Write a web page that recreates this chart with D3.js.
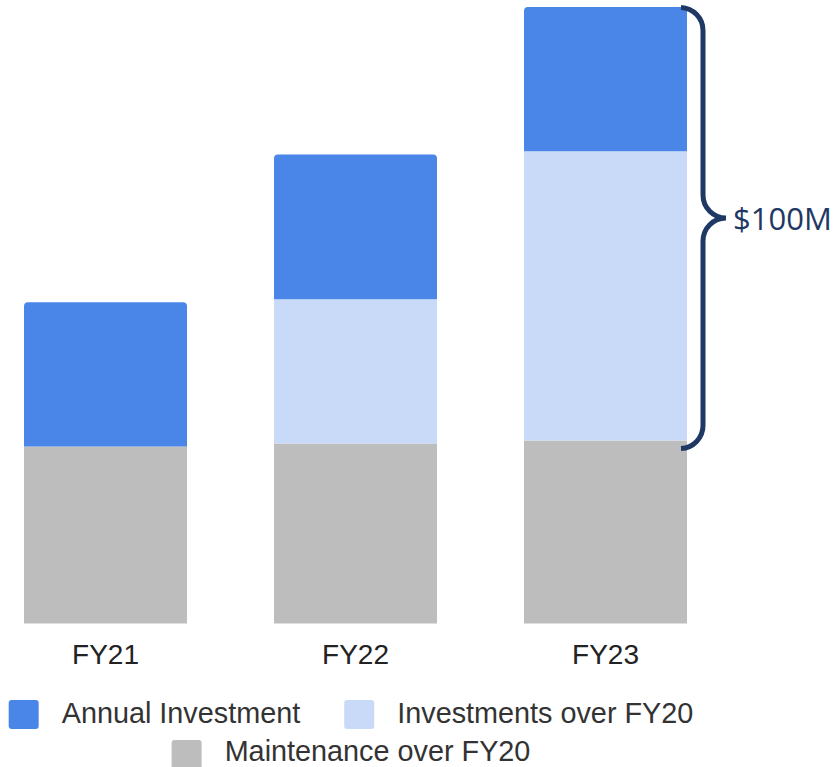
<!DOCTYPE html>
<html>
<head>
<meta charset="utf-8">
<script src="https://cdn.jsdelivr.net/npm/d3@7"></script>
<style>
  html, body { margin: 0; padding: 0; background: #fff; }
  svg { display: block; }
  .cat { font-family: "Liberation Sans", Arial, sans-serif; font-size: 28px; fill: #222; }
  .leg { font-family: "Liberation Sans", Arial, sans-serif; font-size: 28.8px; fill: #333; }
  .note { font-family: "Open Sans", sans-serif; font-size: 31px; fill: #1f3864; }
</style>
</head>
<body>
<div id="graph"></div>
<script>
!(function(){
"use strict"
var width = 838, height = 767

// data ($M)
var categories = ["FY21", "FY22", "FY23"]
var maintenance = [40.8, 41.5, 42.2]
var investmentsOver = [0, 33.3, 66.7]
var annual = [33.3, 33.4, 33.3]
var seriesKeys = ["maintenance", "investmentsOver", "annual"]
var seriesNames = {
	annual: "Annual Investment",
	investmentsOver: "Investments over FY20",
	maintenance: "Maintenance over FY20"
}
var bracketLabel = "$100M"

var colors = { annual: "#4a86e8", investmentsOver: "#c9daf8", maintenance: "#bdbdbd" }

var rows = categories.map(function(c, i){
	return { cat: c, maintenance: maintenance[i], investmentsOver: investmentsOver[i], annual: annual[i] }
})

var svg = d3.select("#graph").append("svg")
	.attr("width", width).attr("height", height)

var x = d3.scaleBand().domain(categories).range([24, 687]).paddingInner(0.348).paddingOuter(0)
var maxTotal = d3.max(rows, function(d){ return d.maintenance + d.investmentsOver + d.annual })
var y = d3.scaleLinear().domain([0, maxTotal]).range([623.5, 7])

var stacked = d3.stack().keys(seriesKeys)(rows)

// path with rounded top corners
function topRounded(x0, y0, w, h, r) {
	r = Math.min(r, h)
	return "M" + x0 + "," + (y0 + h) +
		"V" + (y0 + r) +
		"Q" + x0 + "," + y0 + " " + (x0 + r) + "," + y0 +
		"H" + (x0 + w - r) +
		"Q" + (x0 + w) + "," + y0 + " " + (x0 + w) + "," + (y0 + r) +
		"V" + (y0 + h) + "Z"
}

var layer = svg.append("g").selectAll("g")
	.data(stacked).enter().append("g")
	.attr("fill", function(d){ return colors[d.key] })

layer.selectAll("path")
	.data(function(d){ return d.map(function(p){ p.key = d.key; return p }) })
	.enter().append("path")
	.filter(function(d){ return d[1] - d[0] > 0 })
	.attr("d", function(d){
		var isTop = d.key === "annual"
		var y0 = y(d[1]), h = y(d[0]) - y(d[1])
		if (isTop) return topRounded(x(d.data.cat), y0, x.bandwidth(), h, 4)
		return "M" + x(d.data.cat) + "," + y0 + "h" + x.bandwidth() + "v" + h + "h" + (-x.bandwidth()) + "Z"
	})

// category labels
svg.append("g").selectAll("text")
	.data(categories).enter().append("text")
	.attr("class", "cat")
	.attr("x", function(d){ return x(d) + x.bandwidth() / 2 })
	.attr("y", 663.5)
	.attr("text-anchor", "middle")
	.text(function(d){ return d })

// bracket over FY23 investments
var last = rows[rows.length - 1]
var bTop = y(last.maintenance + last.investmentsOver + last.annual) + 0.5
var bBot = y(last.maintenance) + 8
var bx0 = x(last.cat) + x.bandwidth() - 6
var bxv = bx0 + 22
var bMid = (bTop + bBot) / 2 - 10
var r = 23
svg.append("path")
	.attr("fill", "none")
	.attr("stroke", "#1f3864")
	.attr("stroke-width", 5)
	.attr("d",
		"M" + bx0 + "," + bTop +
		"A" + r + "," + r + " 0 0 1 " + bxv + "," + (bTop + r) +
		"L" + bxv + "," + (bMid - r) +
		"A" + r + "," + r + " 0 0 0 " + (bxv + r) + "," + bMid +
		"A" + r + "," + r + " 0 0 0 " + bxv + "," + (bMid + r) +
		"L" + bxv + "," + (bBot - r) +
		"A" + r + "," + r + " 0 0 1 " + bx0 + "," + bBot)

svg.append("text")
	.attr("class", "note")
	.attr("x", bxv + r + 7)
	.attr("y", bMid + 12)
	.text(bracketLabel)

// legend
var legendRows = [["annual", "investmentsOver"], ["maintenance"]]
var legendY = [700, 740]
var legendCenter = 351
legendRows.forEach(function(keys, ri){
	var g = svg.append("g")
	var cx = 0
	keys.forEach(function(k, i){
		if (i > 0) cx += 44
		g.append("rect")
			.attr("x", cx).attr("y", 0)
			.attr("width", 30).attr("height", 29)
			.attr("rx", 3)
			.attr("fill", colors[k])
		var t = g.append("text")
			.attr("class", "leg")
			.attr("x", cx + 53).attr("y", ri === 0 ? 23 : 21)
			.text(seriesNames[k])
		cx += 53 + t.node().getComputedTextLength()
	})
	g.attr("transform", "translate(" + (legendCenter - cx / 2) + "," + legendY[ri] + ")")
})
}());
</script>
</body>
</html>
